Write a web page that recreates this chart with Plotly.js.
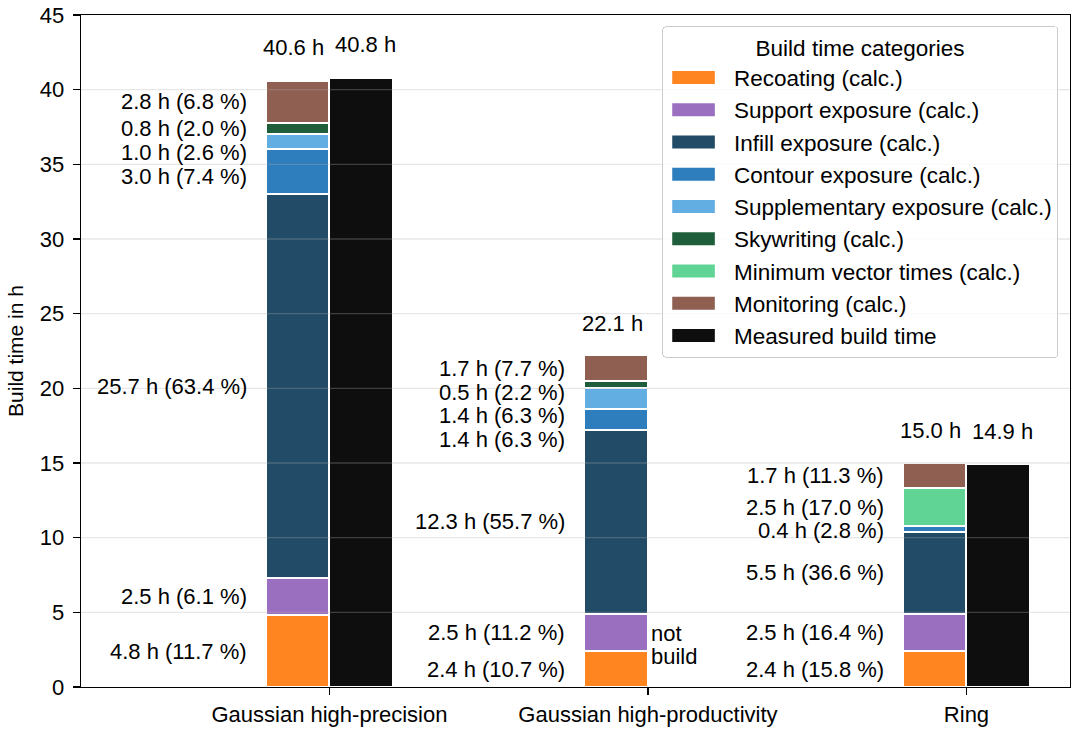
<!DOCTYPE html>
<html><head><meta charset="utf-8">
<script src="https://cdn.plot.ly/plotly-3.0.1.min.js"></script>
<style>html,body{margin:0;padding:0;background:#fff;} #chart{width:1080px;height:732px;}</style>
</head><body><div id="chart"></div>
<script>
// ---- data ----
const configs = ['Gaussian high-precision', 'Gaussian high-productivity', 'Ring'];
const recoating     = [4.8, 2.4, 2.4];
const support       = [2.5, 2.5, 2.5];
const infill        = [25.7, 12.3, 5.5];
const contour       = [3.0, 1.4, 0.4];
const supplementary = [1.0, 1.4, null];
const skywriting    = [0.8, 0.5, null];
const minVector     = [null, null, 2.5];
const monitoring    = [2.8, 1.7, 1.7];
const measured      = [40.8, null, 14.9];

const recoatingPct     = [11.7, 10.7, 15.8];
const supportPct       = [6.1, 11.2, 16.4];
const infillPct        = [63.4, 55.7, 36.6];
const contourPct       = [7.4, 6.3, 2.8];
const supplementaryPct = [2.6, 6.3, null];
const skywritingPct    = [2.0, 2.2, null];
const minVectorPct     = [null, null, 17.0];
const monitoringPct    = [6.8, 7.7, 11.3];

const calcTotal = [40.6, 22.1, 15.0];
const yTicks = [0, 5, 10, 15, 20, 25, 30, 35, 40, 45];
const notBuiltText = ['not', 'build'];

// ---- styling ----
const FONT = 'Liberation Sans, Arial, Helvetica, sans-serif';
const FS = 22;
const LFS = 22.5;
const BAR_W = 0.2;
const series = [
  {name: 'Recoating (calc.)',              v: recoating,     p: recoatingPct,     c: '#ff8520'},
  {name: 'Support exposure (calc.)',       v: support,       p: supportPct,       c: '#9a6fc0'},
  {name: 'Infill exposure (calc.)',        v: infill,        p: infillPct,        c: '#214b66'},
  {name: 'Contour exposure (calc.)',       v: contour,       p: contourPct,       c: '#2e7dbd'},
  {name: 'Supplementary exposure (calc.)', v: supplementary, p: supplementaryPct, c: '#62aee3'},
  {name: 'Skywriting (calc.)',             v: skywriting,    p: skywritingPct,    c: '#1f5e3b'},
  {name: 'Minimum vector times (calc.)',   v: minVector,     p: minVectorPct,     c: '#5fd494'},
  {name: 'Monitoring (calc.)',             v: monitoring,    p: monitoringPct,    c: '#8f5f52'}
];
const catPos = configs.map((_, i) => i);

const data = series.map(s => ({
  type: 'bar', name: s.name,
  x: catPos.map(p => p - BAR_W / 2), y: s.v, width: BAR_W,
  marker: {color: s.c, line: {color: '#ffffff', width: 2}},
  hoverinfo: 'skip'
}));
data.push({
  type: 'bar', name: 'Measured build time',
  x: catPos.map(p => p + BAR_W / 2), y: measured, width: BAR_W,
  marker: {color: '#0e0e0e', line: {color: '#ffffff', width: 2}},
  hoverinfo: 'skip'
});

// ---- annotations ----
const annotations = [];
const MIN_GAP = 1.6;
configs.forEach((cfg, i) => {
  let base = 0;
  const segs = [];
  series.forEach(s => {
    const v = s.v[i];
    if (v == null) return;
    segs.push({center: base + v / 2, text: v.toFixed(1) + ' h (' + s.p[i].toFixed(1) + ' %)'});
    base += v;
  });
  // de-overlap from top down
  let prev = Infinity;
  for (let k = segs.length - 1; k >= 0; k--) {
    const y = Math.min(segs[k].center, prev - MIN_GAP);
    segs[k].y = y; prev = y;
  }
  segs.forEach(sg => annotations.push({
    x: catPos[i] - BAR_W, y: sg.y, xref: 'x', yref: 'y', text: sg.text,
    xanchor: 'right', yanchor: 'middle', xshift: -17, showarrow: false,
    font: {family: FONT, size: FS, color: '#000'}
  }));
  annotations.push({
    x: catPos[i] - BAR_W / 2, y: calcTotal[i], xref: 'x', yref: 'y',
    text: calcTotal[i].toFixed(1) + ' h', showarrow: false,
    xanchor: 'center', yanchor: 'middle', yshift: 33, xshift: -4,
    font: {family: FONT, size: FS, color: '#000'}
  });
  if (measured[i] != null) {
    annotations.push({
      x: catPos[i] + BAR_W / 2, y: measured[i], xref: 'x', yref: 'y',
      text: measured[i].toFixed(1) + ' h', showarrow: false,
      xanchor: 'center', yanchor: 'middle', yshift: 33, xshift: 4,
      font: {family: FONT, size: FS, color: '#000'}
    });
  } else {
    // two-line "not build" note next to the missing measured bar
    notBuiltText.forEach((t, j) => annotations.push({
      x: catPos[i], y: 2.8, xref: 'x', yref: 'y',
      text: t, showarrow: false,
      xanchor: 'left', yanchor: 'middle', xshift: 1, yshift: 11.5 - 23 * j,
      font: {family: FONT, size: FS, color: '#000'}
    }));
  }
});

// grid lines drawn above bars (semi-transparent, like the reference)
const shapes = yTicks.filter(t => t > 0 && t < 45).map(t => ({
  type: 'line', xref: 'paper', yref: 'y', x0: 0, x1: 1, y0: t, y1: t,
  layer: 'above', line: {color: 'rgba(176,176,176,0.3)', width: 1.3}
}));

const layout = {
  width: 1080, height: 732,
  margin: {l: 81, r: 10, t: 15, b: 45},
  paper_bgcolor: '#ffffff', plot_bgcolor: '#ffffff',
  font: {family: FONT, size: FS, color: '#000'},
  barmode: 'stack', bargap: 0,
  showlegend: true,
  xaxis: {
    range: [-0.78, 2.325], tickvals: catPos, ticktext: configs,
    ticks: 'outside', ticklen: 7, tickwidth: 1.3, tickcolor: '#000',
    showline: true, linecolor: '#000', linewidth: 1.3, mirror: true,
    showgrid: false, zeroline: false,
    tickfont: {family: FONT, size: FS, color: '#000'}
  },
  yaxis: {
    range: [0, 45], tickvals: yTicks,
    ticks: 'outside', ticklen: 7, tickwidth: 1.3, tickcolor: '#000',
    showline: true, linecolor: '#000', linewidth: 1.3, mirror: true,
    showgrid: false, zeroline: false, ticklabelstandoff: 4,
    tickfont: {family: FONT, size: FS, color: '#000'},
    title: {text: 'Build time in h', font: {family: FONT, size: 21, color: '#000'}, standoff: 10}
  },
  legend: {
    x: 0.5875, y: 0.9836, xanchor: 'left', yanchor: 'top',
    bgcolor: 'rgba(255,255,255,0.8)', bordercolor: '#cccccc', borderwidth: 1,
    traceorder: 'normal', itemwidth: 61,
    font: {family: FONT, size: LFS, color: '#000'},
    title: {text: 'Build time categories', side: 'top center', font: {family: FONT, size: LFS, color: '#000'}}
  },
  annotations: annotations,
  shapes: shapes
};

Plotly.newPlot('chart', data, layout, {staticPlot: true, displayModeBar: false}).then(gd => {
  gd.querySelectorAll('.legend .traces').forEach(t => {
    const p = t.querySelector('.legendpoints path');
    if (p) { p.setAttribute('d', 'M-26.3,6.5H16.3V-6.5H-26.3Z'); p.style.strokeWidth = '0px'; }
  });
  const bg = gd.querySelector('.legend .bg');
  if (bg) { bg.setAttribute('rx', 4); bg.setAttribute('ry', 4); }
});
</script>
</body></html>
